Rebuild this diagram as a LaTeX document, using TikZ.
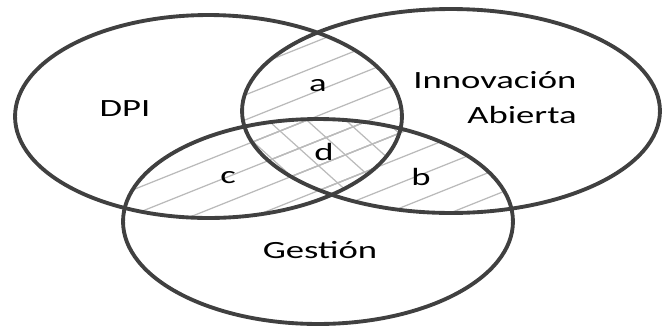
\documentclass[tikz,border=0pt]{standalone}
\usepackage{fontspec}
\usepackage{xcolor}
\newfontfamily\vennfont[FakeStretch=1.48]{Carlito}
\definecolor{vennline}{HTML}{404040}
\definecolor{hatchgray}{HTML}{BBBBBB}
\newcommand\dpiset{(208.5,116.5) ellipse [x radius=3.87cm, y radius=2.03cm]}
\newcommand\innset{(451,111) ellipse [x radius=4.18cm, y radius=2.04cm]}
\newcommand\gesset{(318,221.5) ellipse [x radius=3.9cm, y radius=2.05cm]}

\begin{document}
\begin{tikzpicture}[
  x=0.02cm, y=-0.02cm,
  font=\vennfont\fontsize{14.1}{17}\selectfont,
  outline/.style={draw=vennline, line width=2.2pt},
  hatch/.style={draw=hatchgray, line width=0.7pt},
  lbl/.style={anchor=base, inner sep=0pt}
]
  \useasboundingbox (0,0) rectangle (663,329);

  % rising hatch in every pairwise overlap
  \begin{scope}
    \clip \dpiset; \clip \innset;
    \foreach \k in {68,93,...,468} \draw[hatch] (100,\k-40) -- (600,\k-240);
  \end{scope}
  \begin{scope}
    \clip \dpiset; \clip \gesset;
    \foreach \k in {68,93,...,468} \draw[hatch] (100,\k-40) -- (600,\k-240);
  \end{scope}
  \begin{scope}
    \clip \innset; \clip \gesset;
    \foreach \k in {68,93,...,468} \draw[hatch] (100,\k-40) -- (600,\k-240);
  \end{scope}
  % falling hatch where all three meet
  \begin{scope}
    \clip \dpiset; \clip \innset; \clip \gesset;
    \foreach \k in {-261,-226,...,19} \draw[hatch] (200,180+\k) -- (450,405+\k);
  \end{scope}

  \draw[outline] \dpiset;
  \draw[outline] \innset;
  \draw[outline] \gesset;

  \node[lbl] (dpi) at (125,116) {DPI};
  \node[lbl] (inn) at (495,88) {Innovación};
  \node[lbl] (abi) at (522,123) {Abierta};
  \node[lbl] (ges) at (320,258) {Gestión};
  \node[lbl] (ra) at (318,91) {a};
  \node[lbl] (rd) at (324,160) {d};
  \node[lbl] (rc) at (228,183) {c};
  \node[lbl] (rb) at (421,185) {b};
\end{tikzpicture}
\end{document}
